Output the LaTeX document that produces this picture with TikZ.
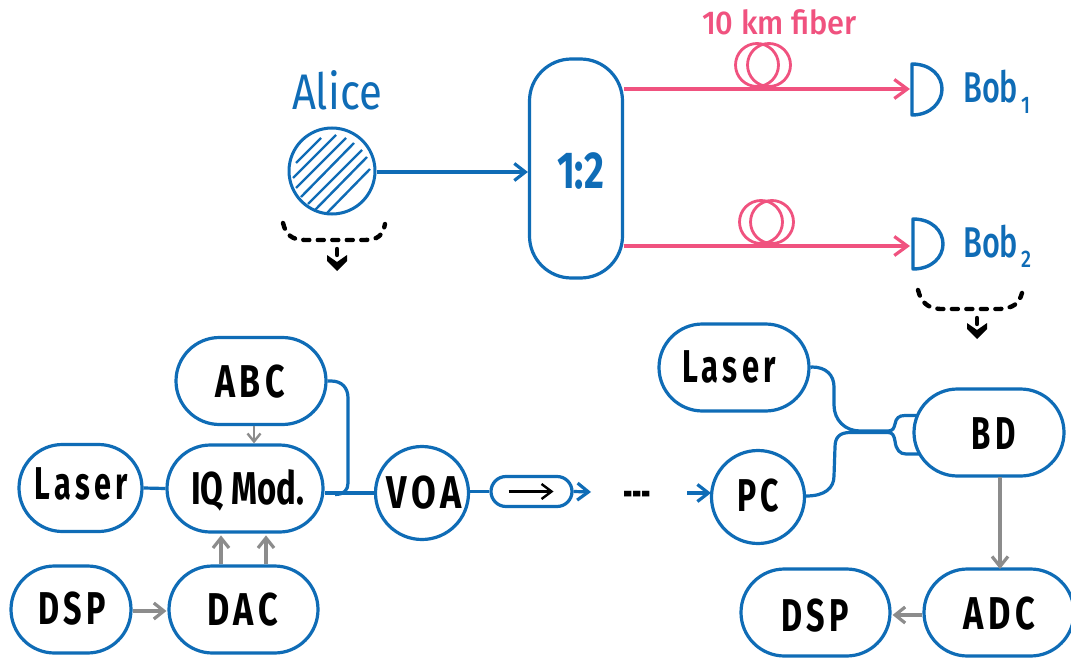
\documentclass[tikz,border=0pt]{standalone}
\usepackage{fontspec}
\usepackage{graphicx}
\setmainfont{Fira Sans}
\newfontfamily\medf{Fira Sans Medium}
\newfontfamily\spacedf[LetterSpace=14]{Fira Sans}
\usetikzlibrary{arrows.meta}
\definecolor{bl}{HTML}{0F6CB6}
\definecolor{pk}{HTML}{F0527F}
\definecolor{gy}{HTML}{8C8C8C}
% width, dx, dy, text
\newcommand{\lab}[4]{\raisebox{#3pt}{\makebox[0pt][c]{\kern#2pt\kern#2pt\resizebox{#1pt}{\height}{\fontsize{46}{46}\spacedf\bfseries #4}}}}
\tikzset{
  x=1pt,y=-1pt,
  pill/.style={draw=bl,line width=3.2pt,rectangle,rounded corners=43.5pt,minimum height=87pt,inner sep=0pt,text depth=0pt,text height=32pt},
  ring/.style={draw=bl,line width=3.2pt,circle,minimum size=93pt,inner sep=0pt,text depth=0pt,text height=32pt},
  coil/.style={draw=pk,line width=2.8pt,circle,minimum size=43pt,inner sep=0pt},
  blw/.style={draw=bl,line width=3.2pt},
  pkw/.style={draw=pk,line width=3.2pt,-{Straight Barb[length=13pt,width=19pt]}},
  bar/.style={blw,-{Straight Barb[length=11pt,width=17pt]}},
  gar/.style={draw=gy,line width=3.2pt,-{Straight Barb[length=10pt,width=16pt]}},
  brace/.style={draw=black,line width=4.4pt,line cap=round,dash pattern=on 6pt off 8.5pt},
  chev/.style={fill=black,draw=none},
  det/.style={draw=bl,line width=3.4pt,line join=round},
  hatch/.style={draw=bl,line width=2.4pt},
}
\begin{document}
\begin{tikzpicture}
\clip (0,0) rectangle (1071,658);
\path[fill=white] (0,0) rectangle (1071,658);

% --- upper part
\node[draw=bl,line width=3pt,circle,minimum size=86pt,inner sep=0pt] (alice) at (332,171) {};
\node[text=bl,inner sep=0pt] (alicet) at (337,90) {\resizebox{90pt}{\height}{\fontsize{50}{50}\selectfont Alice}};
\draw[hatch] (296,163)--(321,138) (293,178)--(336,135) (296,188)--(346,138) (301,197)--(354,143)
  (308,204)--(362,150) (315,210)--(367,157) (327,213)--(370,169);
\node[draw=bl,line width=3.2pt,rectangle,rounded corners=42pt,minimum width=93pt,minimum height=219pt,inner sep=0pt] (split) at (576,168.5) {};
\node[text=bl,inner sep=0pt] (splitt) at (580.5,171) {\resizebox{47pt}{\height}{\fontsize{52}{52}\selectfont\bfseries 1:2}};
\coordinate (a1) at (377,172);
\draw[bar] (a1) -- (a1 -| split.west);

\coordinate (p1) at (624,89);
\coordinate (p2) at (624,246);
\coordinate (det1) at (912,89);
\coordinate (det2) at (913,244);
\draw[pkw] (p1) -- ([xshift=-2pt]det1);
\draw[pkw] (p2) -- ([xshift=-3pt]det2 |- p2);
\node[coil] (c1a) at (757,65) {};
\node[coil] (c1b) at (769,65) {};
\node[coil] (c2a) at (761,222) {};
\node[coil] (c2b) at (772,222) {};
\node[text=pk,inner sep=0pt] (fib) at (779.5,22) {\resizebox{155pt}{\height}{\fontsize{33}{33}\medf 10 km fiber}};

\draw[det,shift={(det1)}] (0,-25) -- (0,26) .. controls (19,26) and (30,13) .. (30,0) .. controls (30,-13) and (19,-25) .. (0,-25) -- cycle;
\draw[det,shift={(det2)}] (0,-25) -- (0,25) .. controls (19,25) and (30,13) .. (30,0) .. controls (30,-13) and (19,-25) .. (0,-25) -- cycle;

\node[text=bl,inner sep=0pt,anchor=base west] (bob1) at (963,103) {\resizebox{55pt}{\height}{\fontsize{43}{43}\medf Bob}\kern3pt\raisebox{-10pt}{\resizebox{9pt}{\height}{\fontsize{24}{24}\medf 1}}};
\node[text=bl,inner sep=0pt,anchor=base west] (bob2) at (963,257) {\resizebox{55pt}{\height}{\fontsize{43}{43}\medf Bob}\kern3pt\raisebox{-10pt}{\resizebox{10pt}{\height}{\fontsize{24}{24}\medf 2}}};

% dashed braces with their arrows
\coordinate (bA) at (283,223);
\coordinate (bB) at (977,318);
\draw[brace] (bA) .. controls (286,235) and (292,240) .. (305,240) -- (365,240) .. controls (378,240) and (383,235) .. (385,224);
\draw[brace] (337,249) -- (337,262);
\fill[chev] (327,255) -- (337,262) -- (347,255) -- (347,261) -- (337,271) -- (327,261) -- cycle;
\draw[brace] (918,290) .. controls (921,302) and (927,308) .. (940,309) -- (1000,309) .. controls (1013,308) and (1019,304) .. (1022,293);
\draw[brace] (bB) -- (977,333);
\fill[chev] (967,323) -- (977,330) -- (987,323) -- (987,329) -- (977,339) -- (967,329) -- cycle;

% --- lower left
\node[pill,minimum width=150pt] (abc) at (251,381) {\lab{70}{-1}{0}{ABC}};
\node[pill,minimum width=123pt] (las1) at (80.5,488) {\lab{93}{1}{5}{Laser}};
\node[pill,minimum width=156pt] (iq) at (245,488.5) {\raisebox{0pt}{\makebox[0pt][c]{\kern5pt\resizebox{113pt}{\height}{\fontsize{46}{46}\selectfont\bfseries IQ Mod.}}}};
\node[pill,minimum width=120pt] (dsp1) at (71,609.5) {\lab{68}{1}{1}{DSP}};
\node[pill,minimum width=149pt] (dac) at (243.5,609.5) {\lab{71}{-1}{0}{DAC}};
\node[ring] (voa) at (422,493) {\lab{76}{2}{1}{VOA}};
\node[draw=bl,line width=3.2pt,rectangle,rounded corners=15pt,minimum width=81pt,minimum height=30pt,inner sep=0pt] (iso) at (531.5,491.5) {};
\draw[draw=black,line width=2.4pt,-{Straight Barb[length=10pt,width=15pt]}] ([xshift=-23pt]iso.center) -- ([xshift=22pt]iso.center);
\coordinate (out) at (591,492);
\coordinate (in) at (687,493);
\node[inner sep=0pt] (gap) at (637,500) {\resizebox{28pt}{\height}{\fontsize{46}{46}\selectfont\bfseries -{}-{}-}};

\draw[blw] (las1.east) -- (iq.west);
\draw[blw] (iq.east |- voa.west) -- (voa.west);
\draw[blw] (abc.east) -- (331,381) .. controls (342,381) and (348,388) .. (348,398) -- (348,483) .. controls (348,490) and (344,494.5) .. (335,494.5);
\draw[blw] (voa.east |- iso.west) -- (iso.west);
\draw[bar] (iso.east) -- (out);
\draw[bar] (in) -- (in -| 711,0);
\draw[gar,line width=2.4pt,-{Straight Barb[length=8pt,width=13pt]}] ([xshift=3pt]abc.south) -- ([xshift=3pt]abc.south |- iq.north);
\draw[gar] ([xshift=-22.5pt]dac.north) -- ([xshift=-22.5pt,yshift=29pt]dac.north);
\draw[gar] ([xshift=22.5pt]dac.north) -- ([xshift=22.5pt,yshift=29pt]dac.north);
\draw[gar] ([yshift=-1.5pt]dsp1.east) -- ([xshift=-1pt,yshift=-1.5pt]dac.west);

% --- lower right
\node[pill,minimum width=150pt] (las2) at (734,367.5) {\lab{94}{-5}{1.5}{Laser}};
\node[ring] (pc) at (758,497) {\lab{42}{0}{1.5}{PC}};
\node[pill,minimum width=150pt] (bd) at (989,432.5) {\lab{44}{4.5}{-0.5}{BD}};
\node[pill,minimum width=150pt] (adc) at (999,612.5) {\lab{72}{0}{-1}{ADC}};
\node[pill,minimum width=149pt] (dsp2) at (815.5,612.5) {\lab{68}{-0.5}{-3}{DSP}};

\draw[blw] (las2.east) -- (812,367) .. controls (826,367) and (834,375) .. (834,387) -- (834,405) .. controls (834,420) and (845,431) .. (860,431) -- (888,431) .. controls (893,431) and (894,428) .. (895,424) .. controls (896,418) and (899,415.5) .. (905,415.5) -- (917,415.5);
\draw[blw] (pc.east |- 0,496) .. controls (825,496) and (834,488) .. (834,476) -- (835,447) .. controls (835,437) and (840,432.5) .. (850,432.5) -- (888,432.5) .. controls (893,432.5) and (894,436) .. (895,441) .. controls (896,450) and (900,454) .. (906,454) -- (919,454);
\draw[gar] (1000,477) -- (1000,569);
\draw[gar] ([yshift=-2.5pt]adc.west) -- ([xshift=1pt,yshift=-2.5pt]dsp2.east);
\end{tikzpicture}
\end{document}
